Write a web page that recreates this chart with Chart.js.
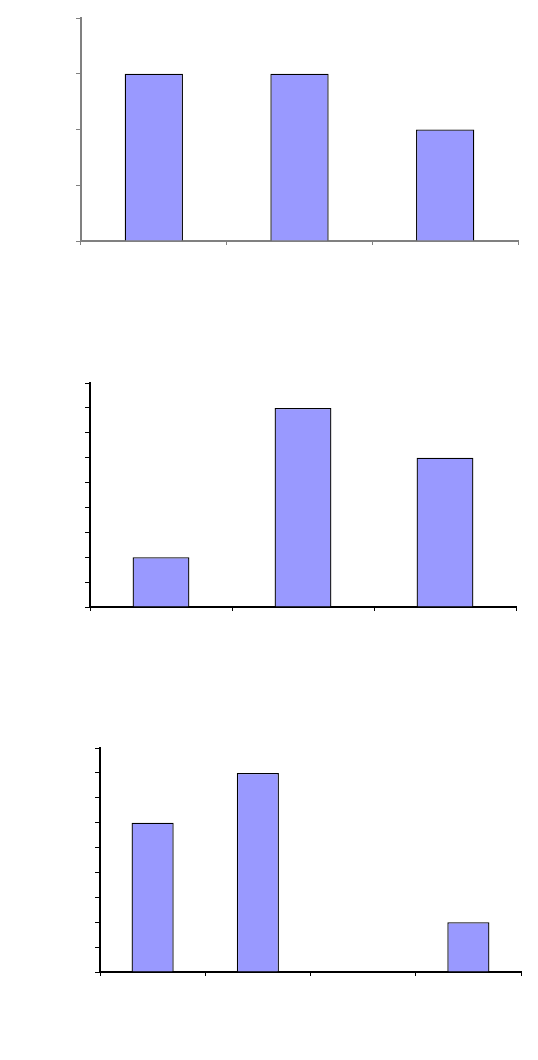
<!DOCTYPE html>
<html>
<head>
<meta charset="utf-8">
<script src="https://cdn.jsdelivr.net/npm/chart.js@4/dist/chart.umd.min.js"></script>
<style>
  html, body { margin:0; padding:0; background:#fff; }
  body { width:538px; height:1060px; position:relative; overflow:hidden; }
  canvas { position:absolute; left:0; }
</style>
</head>
<body>
<canvas id="c1" width="538" height="260" style="top:0px"></canvas>
<canvas id="c2" width="538" height="260" style="top:370px"></canvas>
<canvas id="c3" width="538" height="260" style="top:735px"></canvas>
<script>
// Data (no visible labels in the reference)
const categories1 = ['1', '2', '3'];
const values1 = [3, 3, 2];
const yMax1 = 4;

const categories2 = ['1', '2', '3'];
const values2 = [2, 8, 6];
const yMax2 = 9;

const categories3 = ['1', '2', '3', '4'];
const values3 = [6, 8, 0, 2];
const yMax3 = 9;

function makeChart(id, labels, values, yMax, axisColor, padding) {
  return new Chart(document.getElementById(id), {
    type: 'bar',
    data: {
      labels: labels,
      datasets: [{
        data: values,
        backgroundColor: '#9999FF',
        borderColor: '#000000',
        borderWidth: 1.3,
        borderSkipped: 'bottom',
        barPercentage: 0.4,
        categoryPercentage: 1.0
      }]
    },
    options: {
      responsive: false,
      animation: false,
      layout: { padding: padding },
      plugins: { legend: { display: false }, tooltip: { enabled: false } },
      scales: {
        x: {
          offset: true,
          grid: { display: true, drawOnChartArea: false, drawTicks: true, tickLength: 4, offset: true, color: axisColor, lineWidth: 1 },
          border: { display: true, color: axisColor, width: 2 },
          ticks: { display: false }
        },
        y: {
          min: 0, max: yMax,
          grid: { display: true, drawOnChartArea: false, drawTicks: true, tickLength: 5, color: axisColor, lineWidth: 1 },
          border: { display: true, color: axisColor, width: 2 },
          ticks: { display: false, stepSize: 1 }
        }
      }
    }
  });
}

makeChart('c1', categories1, values1, yMax1, '#808080', { left: 76, right: 20, top: 18, bottom: 15 });
makeChart('c2', categories2, values2, yMax2, '#000000', { left: 85, right: 22, top: 13, bottom: 19 });
makeChart('c3', categories3, values3, yMax3, '#000000', { left: 95, right: 17, top: 13, bottom: 19 });
</script>
</body>
</html>
